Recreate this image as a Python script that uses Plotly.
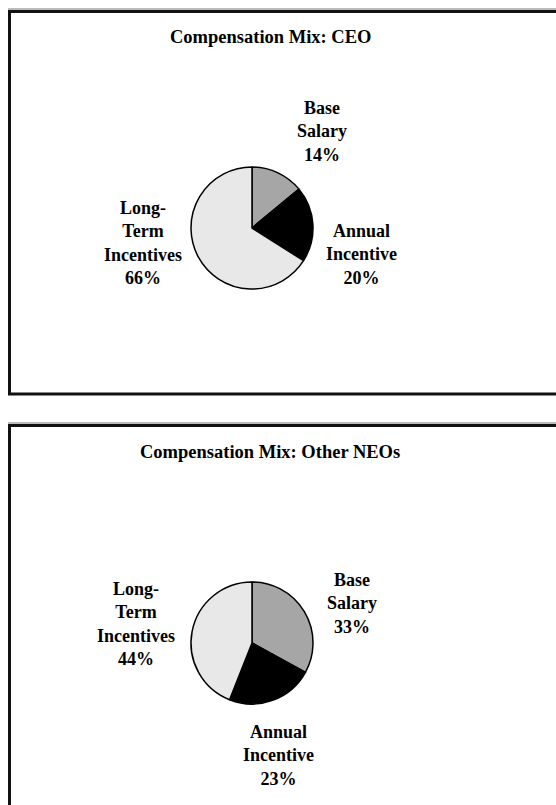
import plotly.graph_objects as go

# Data
components = ["Base Salary", "Annual Incentive", "Long-Term Incentives"]
ceo_mix = [14, 20, 66]
neo_mix = [33, 23, 44]
label_lines = [["Base", "Salary"], ["Annual", "Incentive"], ["Long-", "Term", "Incentives"]]
slice_colors = ["#a6a6a6", "#000000", "#e8e8e8"]
panel_titles = ["Compensation Mix: CEO", "Compensation Mix: Other NEOs"]

W, H = 556, 805
FONT = "Liberation Serif"


def px(x):
    return x / W


def py(y):
    return 1 - y / H


fig = go.Figure()

# pie centers (pixels) and radius
centers = [(252, 228), (252, 643)]
R = 61
for (cx, cy), vals, name in zip(centers, [ceo_mix, neo_mix], panel_titles):
    fig.add_trace(go.Pie(
        labels=components, values=vals, name=name,
        sort=False, direction="clockwise", rotation=0,
        marker=dict(colors=slice_colors, line=dict(color="#000000", width=1.5)),
        textinfo="none", hoverinfo="label+percent",
        domain=dict(x=[px(cx - R), px(cx + R)], y=[py(cy + R), py(cy - R)]),
        showlegend=False,
    ))

# label positions (pixels, block centre)
label_pos = [
    [(322, 131.5), (361, 254), (143, 242.5)],
    [(352, 603.5), (278, 755), (136, 624)],
]
annotations = []
for vals, poss in zip([ceo_mix, neo_mix], label_pos):
    for lines, v, (x, y) in zip(label_lines, vals, poss):
        annotations.append(dict(
            text="<br>".join("<b>" + s + "</b>" for s in lines + [f"{v}%"]),
            x=px(x), y=py(y), xref="paper", yref="paper",
            xanchor="center", yanchor="middle", showarrow=False,
            font=dict(family=FONT, size=18, color="#000000"),
        ))

for t, y in zip(panel_titles, [37, 452]):
    annotations.append(dict(
        text=f"<b>{t}</b>", x=px(270), y=py(y), xref="paper", yref="paper",
        xanchor="center", yanchor="middle", showarrow=False,
        font=dict(family=FONT, size=18.5, color="#000000"),
    ))

# panel borders (faint shadow above the top edge, then the frame)
shapes = []
for top, bottom in [(11.5, 394), (425.5, 840)]:
    shapes.append(dict(type="line", xref="paper", yref="paper",
                       x0=px(8), x1=px(600), y0=py(top - 2.5), y1=py(top - 2.5),
                       line=dict(color="#bbbbbb", width=2)))
    shapes.append(dict(type="rect", xref="paper", yref="paper",
                       x0=px(9.5), x1=px(600), y0=py(bottom), y1=py(top),
                       line=dict(color="#111111", width=3)))

fig.update_layout(
    width=W, height=H,
    margin=dict(l=0, r=0, t=0, b=0),
    paper_bgcolor="white", plot_bgcolor="white",
    annotations=annotations, shapes=shapes,
)

fig.write_html("out.html", config={"displayModeBar": False},
               post_script="document.body.style.margin='0';")
